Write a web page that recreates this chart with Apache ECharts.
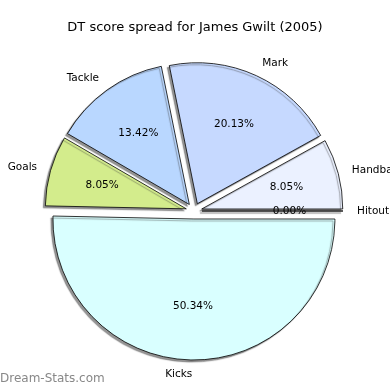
<!DOCTYPE html>
<html>
<head>
<meta charset="utf-8">
<script src="https://cdn.jsdelivr.net/npm/echarts@6/dist/echarts.min.js"></script>
<style>html,body{margin:0;padding:0;background:#fff}#c{width:390px;height:390px}</style>
</head>
<body>
<div id="c"></div>
<script>
const categories = ['Hitout', 'Handball', 'Mark', 'Tackle', 'Goals', 'Kicks'];
const values = [0, 12, 30, 20, 12, 75];
const colors = ['#ffffff', '#ebf1ff', '#c6d9ff', '#b9d7ff', '#d3ec8c', '#d9ffff'];

const total = values.reduce((a, b) => a + b, 0);
const chart = echarts.init(document.getElementById('c'), null, {renderer: 'canvas'});
const CX = 194, CY = 211, R = 141, OFF = 8;
const font = 'DejaVu Sans';

function mk(fn) {
  return categories.map((n, i) => Object.assign({name: n, value: values[i], selected: true}, fn(i)));
}
const common = {
  type: 'pie', center: [CX, CY], clockwise: false, startAngle: 0,
  selectedMode: 'multiple', selectedOffset: OFF, animation: false,
  avoidLabelOverlap: false, minShowLabelAngle: 0, stillShowZeroSum: true,
  emphasis: {disabled: true}, silent: true
};
chart.setOption({
  backgroundColor: '#fff',
  title: {
    text: 'DT score spread for James Gwilt (2005)', left: 'center', top: 16,
    textStyle: {fontFamily: font, fontSize: 13, fontWeight: 'normal', color: '#000'}
  },
  graphic: [{
    type: 'text', left: 0, top: 373,
    style: {text: 'Dream-Stats.com', fontFamily: font, fontSize: 12, fontWeight: 'normal', fill: '#888'}
  }],
  series: [
    Object.assign({}, common, {
      radius: [0, R],
      label: {show: false}, labelLine: {show: false},
      data: mk(i => ({itemStyle: {
        color: colors[i], borderColor: '#000', borderWidth: 0.8,
        shadowColor: 'rgba(60,60,60,0.55)', shadowOffsetX: -2, shadowOffsetY: 2, shadowBlur: 1
      }}))
    }),
    Object.assign({}, common, {
      radius: [28, R],
      itemStyle: {color: 'rgba(0,0,0,0)'},
      label: {show: true, position: 'inside', fontFamily: font, fontSize: 10.5, color: '#000',
        formatter: p => (p.value / total * 100).toFixed(2) + '%'},
      labelLine: {show: false},
      data: mk(i => ({}))
    }),
    Object.assign({}, common, {
      radius: [0, R],
      itemStyle: {color: 'rgba(0,0,0,0)'},
      label: {show: true, position: 'outside', fontFamily: font, fontSize: 10.5, color: '#000',
        distanceToLabelLine: 0, formatter: '{b}'},
      labelLine: {show: false, length: 14, length2: 0},
      data: mk(i => ({}))
    })
  ]
});
</script>
</body>
</html>
